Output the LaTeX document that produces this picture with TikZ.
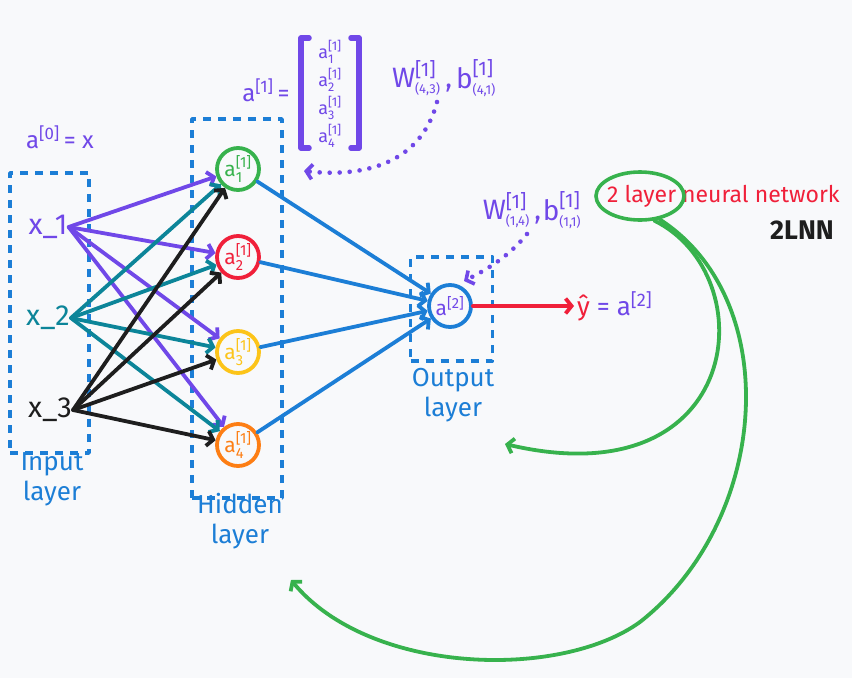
\documentclass[tikz,border=0pt]{standalone}
\usepackage{amsmath}
\usepackage{fontspec}
\setmainfont{Fira Sans}
\usetikzlibrary{arrows.meta,shapes.geometric}
\definecolor{bgc}{HTML}{F8F9FB}
\definecolor{cpur}{HTML}{7048E8}
\definecolor{cteal}{HTML}{0C8599}
\definecolor{cblue}{HTML}{1C7ED6}
\definecolor{cgreen}{HTML}{37B24D}
\definecolor{cred}{HTML}{F0203A}
\definecolor{cyel}{HTML}{FCC419}
\definecolor{corg}{HTML}{FD7E14}
\definecolor{cblk}{HTML}{1E1E1E}
\newcommand\fsz[1]{\fontsize{#1}{#1}\selectfont}
\newcommand\actv[3]{$\text{#1}^{\text{[#2]}}_{\text{#3}}$}
\begin{document}
\begin{tikzpicture}[x=1pt,y=-1pt,
  line cap=round, line join=round,
  ln/.style={line width=3.8pt},
  arr/.style={ln,-{Straight Barb[length=6pt,width=15pt]}},
  dbox/.style={draw=cblue, line width=3.8pt, dash pattern=on 8pt off 7pt, line cap=butt, minimum width=#1},
  neur/.style={circle, draw=#1, text=#1, line width=3.8pt, minimum size=42pt, inner sep=0pt, font=\fsz{21}},
  lbl/.style={text=cblue, align=center, font=\fsz{26}, text height=19pt},
  dotarr/.style={cpur, line width=4.6pt, dash pattern=on 0pt off 10pt, line cap=round, -{Straight Barb[length=6pt,width=15pt,line width=3.6pt]}}
]
\fill[bgc] (0,0) rectangle (852,678);
\useasboundingbox (0,0) rectangle (852,678);

% boxes
\node[dbox=79pt, minimum height=280pt] (inbox) at (49.5,313) {};
\node[dbox=90pt, minimum height=379pt] (hidbox) at (237,308.5) {};
\node[dbox=82pt, minimum height=104pt] (outbox) at (451.5,309) {};

% labels
\node[text=cpur, font=\fsz{24}] (a0) at (60,140) {\actv{a}{0}{}\,= x};
\node[lbl] (inlbl) at (52,494) {Input\\[4pt]layer};
\node[lbl] (hidlbl) at (240,537) {Hidden\\[4pt]layer};
\node[lbl] (outlbl) at (453,410) {Output\\[4pt]layer};

% inputs
\node[text=cpur, font=\fsz{29}, inner sep=1pt] (x1) at (48,227) {x\_1};
\node[text=cteal, font=\fsz{29}, inner sep=1pt] (x2) at (48,318) {x\_2};
\node[text=cblk, font=\fsz{29}, inner sep=1pt] (x3) at (50,410) {x\_3};

% hidden neurons
\node[neur=cgreen] (h1) at (238,169) {\actv{a}{1}{1}};
\node[neur=cred] (h2) at (238,257) {\actv{a}{1}{2}};
\node[neur=cyel] (h3) at (238,352) {\actv{a}{1}{3}};
\node[neur=corg] (h4) at (238,445) {\actv{a}{1}{4}};

% output neuron
\node[circle, draw=cblue, text=cpur, line width=3.8pt, minimum size=42pt, inner sep=0pt, font=\fsz{21}] (out) at (450,306) {$\text{a}^{\text{[2]}}$};
\node[font=\fsz{26}, anchor=west, inner sep=3pt] (yh) at (574,306) {\textcolor{cred}{ŷ}\textcolor{cpur}{\ = $\text{a}^{\text{[2]}}$}};

% input -> hidden
\foreach \h in {h1,h2,h3,h4} \draw[arr, cpur] (x1.east) -- (\h);
\foreach \h in {h1,h2,h3,h4} \draw[arr, cteal] (x2.east) -- (\h);
\foreach \h in {h1,h2,h3,h4} \draw[arr, cblk] (x3.east) -- (\h);

% hidden -> output
\foreach \h in {h1,h2,h3,h4} \draw[arr, cblue] (\h) -- (out);

% output -> yhat
\draw[arr, cred] (out) -- (yh.west);

% matrix
\node[text=cpur, font=\fsz{24}] (a1eq) at (266,93) {\actv{a}{1}{}\,=};
\node[text=cpur, font=\fsz{18}, inner sep=0pt] (m1) at (330,52) {\actv{a}{1}{1}};
\node[text=cpur, font=\fsz{18}, inner sep=0pt] (m2) at (330,80) {\actv{a}{1}{2}};
\node[text=cpur, font=\fsz{18}, inner sep=0pt] (m3) at (330,108) {\actv{a}{1}{3}};
\node[text=cpur, font=\fsz{18}, inner sep=0pt] (m4) at (330,136) {\actv{a}{1}{4}};
\draw[cpur, line width=5.5pt] (309,38) -- (301,38) -- (301,148) -- (309,148);
\draw[cpur, line width=5.5pt] (351,38) -- (359,38) -- (359,148) -- (351,148);

% W, b labels
\node[text=cpur, font=\fsz{28}] (w1) at (422,78) {\actv{W}{1}{\fsz{13}(4,3)}\,,};
\node[text=cpur, font=\fsz{28}] (b1) at (476,78) {\actv{b}{1}{\fsz{13}(4,1)}};
\node[text=cpur, font=\fsz{28}] (w2) at (512,210) {\actv{W}{1}{\fsz{13}(1,4)}\,,};
\node[text=cpur, font=\fsz{28}] (b2) at (562,210) {\actv{b}{1}{\fsz{13}(1,1)}};

% dotted arrows
\coordinate (d1s) at (437,102);
\coordinate (d1e) at (304,171);
\draw[dotarr] (d1s) .. controls (422,160) and (370,178) .. (d1e);
\coordinate (d2s) at (527,234);
\coordinate (d2e) at (464,281);
\draw[dotarr] (d2s) .. controls (510,255) and (490,268) .. (d2e);

% 2 layer neural network
\node[text=cred, font=\fsz{23}, anchor=west, inner sep=0pt] (title) at (607,196) {2 layer neural network};
\node[text=cblk, font=\bfseries\fsz{27}] (lnn) at (802,230) {2LNN};
\node[ellipse, draw=cgreen, line width=3.6pt, minimum width=88pt, minimum height=48pt] (ell) at (640,196) {};

% green curves
\coordinate (g1e) at (505,444);
\coordinate (g2m) at (640,622);
\coordinate (g2e) at (291,580);
\draw[arr, cgreen] (ell.-60) .. controls (765,275) and (745,500) .. (g1e);
\draw[ln, cgreen] (ell.-50) .. controls (785,300) and (770,520) .. (g2m);
\draw[arr, cgreen] (g2m) .. controls (560,680) and (370,675) .. (g2e);
\end{tikzpicture}
\end{document}
